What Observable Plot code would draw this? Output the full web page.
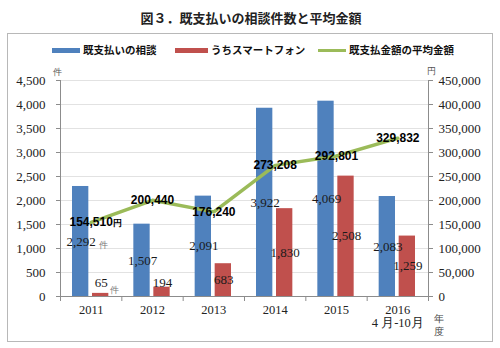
<!DOCTYPE html>
<html><head><meta charset="utf-8">
<script src="https://cdn.jsdelivr.net/npm/d3@7"></script>
<script src="https://cdn.jsdelivr.net/npm/@observablehq/plot@0.6"></script>
<style>
body{margin:0;background:#fff;}
#wrap{position:relative;width:500px;height:348px;overflow:hidden;font-family:"Noto Sans CJK JP","Noto Sans",sans-serif;}
#title{position:absolute;top:8px;left:1px;width:500px;text-align:center;font-size:13px;font-weight:bold;color:#222;line-height:20px;}
#frame{position:absolute;left:7px;top:33px;width:486px;height:309px;border:1px solid #b8b8b8;box-sizing:border-box;}
.leg{position:absolute;top:43px;display:flex;align-items:center;font-size:10.5px;font-weight:bold;color:#111;line-height:14px;white-space:nowrap;}
.sw{display:inline-block;height:4px;margin-right:3px;}
#chart{position:absolute;left:0;top:0;}
</style></head>
<body>
<div id="wrap">
  <div id="title"></div>
  <div id="frame"></div>
  <div id="legend"></div>
  <div id="chart"></div>
</div>
<script>
const titleText = "図３．既支払いの相談件数と平均金額";
const years = ["2011","2012","2013","2014","2015","2016"];
const yearLabels = ["2011","2012","2013","2014","2015","2016\n4 月-10月"];
const consultations = [2292,1507,2091,3922,4069,2083];
const smartphone = [65,194,683,1830,2508,1259];
const avgAmount = [154510,200440,176240,273208,292801,329832];
const leftTicks = [0,500,1000,1500,2000,2500,3000,3500,4000,4500];
const rightTicks = [0,50000,100000,150000,200000,250000,300000,350000,400000,450000];
const seriesNames = ["既支払いの相談","うちスマートフォン","既支払金額の平均金額"];
const colors = ["#4F81BD","#C0504D","#9BBB59"];

document.getElementById("title").textContent = titleText;
const legendLeft = [52,175,318];
const swW = [28,33,28];
const legend = document.getElementById("legend");
seriesNames.forEach((n,i)=>{
  const d = document.createElement("div");
  d.className = "leg";
  d.style.left = legendLeft[i] + "px";
  d.innerHTML = `<span class="sw" style="width:${swW[i]}px;background:${colors[i]};height:${i==2?3:5}px"></span><span>${n}</span>`;
  legend.appendChild(d);
});

const rows = years.map((y,i)=>({year:y, total:consultations[i], phone:smartphone[i], yen:avgAmount[i]}));
const ratio = rightTicks[rightTicks.length-1]/leftTicks[leftTicks.length-1];
const fmt = d3.format(",");
const labelOf = Object.fromEntries(years.map((y,i)=>[y,yearLabels[i]]));
const W = 500, H = 348, mL = 60, mR = 72, mT = 80, mB = 52;
const bw = (W - mL - mR) / years.length;
const minLabelValue = 290;
const serif = "Liberation Serif, Times New Roman, serif";
const sans = "Liberation Sans, Arial, sans-serif";
const axisColor = "#8c8c8c";

const plot = Plot.plot({
  width: W, height: H,
  marginLeft: mL, marginRight: mR, marginTop: mT, marginBottom: mB,
  style: {background: "transparent", overflow: "visible"},
  x: {type: "band", domain: years, padding: 0, round: false, axis: null},
  y: {domain: [0, 4500], axis: null},
  marks: [
    Plot.gridY(leftTicks, {stroke: "#e2e2e2", strokeOpacity: 1}),
    Plot.barY(rows, {x: "year", y: "total", fill: colors[0], insetLeft: 12, insetRight: 33}),
    Plot.barY(rows, {x: "year", y: "phone", fill: colors[1], insetLeft: 32, insetRight: 13}),
    Plot.ruleY([0], {stroke: axisColor}),
    Plot.frame({anchor: "left", stroke: axisColor}),
    Plot.frame({anchor: "right", stroke: axisColor}),
    Plot.axisY(leftTicks, {anchor: "left", tickSize: 4, tickPadding: 11, tickFormat: fmt, fontFamily: serif, fontSize: 13, fill: "#222", stroke: axisColor, label: null}),
    Plot.axisY(rightTicks.map(v => v / ratio), {anchor: "right", tickSize: 4, tickPadding: 6, tickFormat: d => fmt(Math.round(d * ratio)), fontFamily: serif, fontSize: 13, fill: "#222", stroke: axisColor, label: null}),
    Plot.axisX(years, {tickSize: 0, tickPadding: 8, tickFormat: d => labelOf[d], fontFamily: serif, fontSize: 12.5, lineHeight: 1.06, fill: "#222", label: null}),
    Plot.axisX(years, {tickSize: 5, tickFormat: () => "", dx: -bw / 2, stroke: axisColor, label: null}),
    Plot.axisX(years.slice(-1), {tickSize: 5, tickFormat: () => "", dx: bw / 2, stroke: axisColor, label: null}),
    Plot.lineY(rows, {x: "year", y: d => d.yen / ratio, stroke: colors[2], strokeWidth: 3.5}),
    Plot.text(rows, {x: "year", y: d => d.total / 2, text: d => fmt(d.total), dx: -10, fontFamily: serif, fontSize: 13, fill: "#1a1a1a"}),
    Plot.text(rows.slice(0,1), {x: "year", y: d => d.total / 2, text: () => "件", dx: 7.5, dy: 4, textAnchor: "start", fontSize: 9, fill: "#777"}),
    Plot.text(rows, {x: "year", y: d => Math.max(d.phone / 2, minLabelValue), text: d => fmt(d.phone), dx: 10, fontFamily: serif, fontSize: 13, fill: "#1a1a1a"}),
    Plot.text(rows.slice(0,1), {x: "year", y: d => Math.max(d.phone / 2, minLabelValue), text: () => "件", dx: 18.5, dy: 8, textAnchor: "start", fontSize: 9, fill: "#777"}),
    Plot.text(rows, {x: "year", y: d => d.yen / ratio, text: d => fmt(d.yen), textAnchor: "middle", fontFamily: sans, fontWeight: "bold", fontSize: 12, fill: "#000"}),
    Plot.text(rows.slice(0,1), {x: "year", y: d => d.yen / ratio, text: () => "円", dx: 22, dy: 1, textAnchor: "start", fontWeight: "bold", fontSize: 9, fill: "#000"}),
    Plot.text(["件"], {frameAnchor: "top-left", lineAnchor: "middle", text: d => d, dx: -7.5, dy: -8, fontSize: 9, fill: "#555"}),
    Plot.text(["円"], {frameAnchor: "top-right", lineAnchor: "middle", text: d => d, dx: 7, dy: -9, fontSize: 9, fill: "#555"}),
    Plot.text(["年\n度"], {frameAnchor: "bottom-right", lineAnchor: "middle", text: d => d, dx: 15, dy: 27.5, fontSize: 10, lineHeight: 1.3, fill: "#444"})
  ]
});
document.getElementById("chart").appendChild(plot);
</script>
</body></html>
